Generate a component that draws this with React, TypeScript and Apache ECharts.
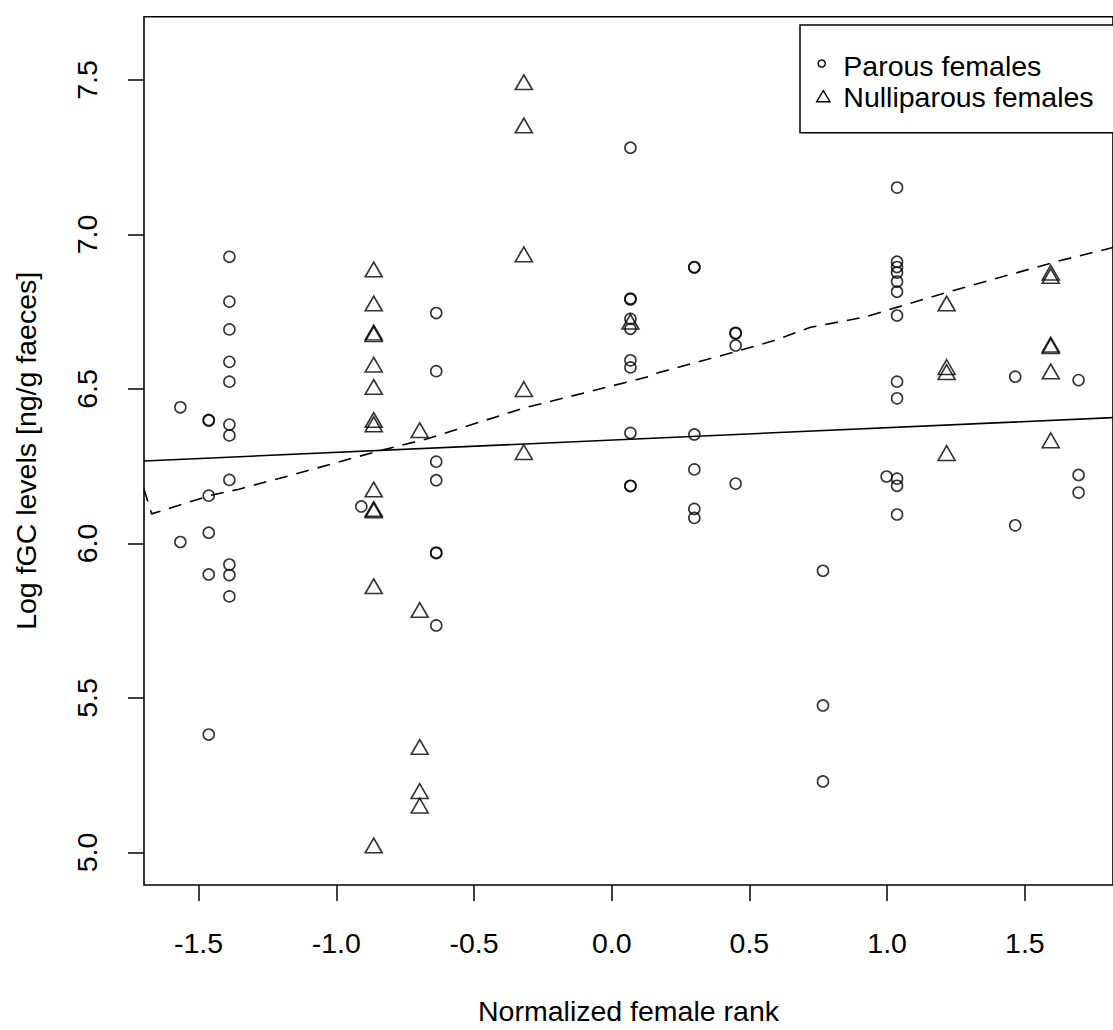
import React, { useEffect, useRef } from "react";
import * as echarts from "echarts";

// Axis ticks
const xTicks = [-1.5, -1.0, -0.5, 0.0, 0.5, 1.0, 1.5];
const yTicks = [5.0, 5.5, 6.0, 6.5, 7.0, 7.5];

// Parous females: normalized rank groups and log fGC levels per group
const parousRanks = [-1.566, -1.463, -1.388, -0.909, -0.637, 0.068, 0.3, 0.45, 0.767, 0.998, 1.036, 1.465, 1.695];
const parousLevels = [
  [6.441, 6.005],
  [6.4, 6.398, 6.155, 6.035, 5.9, 5.382],
  [6.928, 6.783, 6.693, 6.588, 6.524, 6.385, 6.35, 6.206, 5.932, 5.898, 5.829],
  [6.12],
  [6.746, 6.558, 6.265, 6.205, 5.971, 5.969, 5.735],
  [7.281, 6.793, 6.79, 6.727, 6.695, 6.593, 6.57, 6.358, 6.187, 6.186],
  [6.895, 6.893, 6.353, 6.24, 6.112, 6.083],
  [6.682, 6.68, 6.641, 6.194],
  [5.912, 5.476, 5.23],
  [6.217],
  [7.152, 6.912, 6.895, 6.877, 6.848, 6.815, 6.738, 6.524, 6.47, 6.21, 6.187, 6.094],
  [6.54, 6.059],
  [6.529, 6.222, 6.165],
];

// Nulliparous females
const nulliRanks = [-0.864, -0.697, -0.319, 0.068, 1.216, 1.594];
const nulliLevels = [
  [6.879, 6.769, 6.67, 6.675, 6.571, 6.499, 6.392, 6.378, 6.167, 6.099, 6.104, 5.854, 5.015],
  [6.359, 5.777, 5.334, 5.191, 5.144],
  [7.485, 7.345, 6.928, 6.492, 6.288],
  [6.71],
  [6.769, 6.563, 6.547, 6.285],
  [6.869, 6.858, 6.631, 6.636, 6.549, 6.326],
];

// Dashed fitted curve (nulliparous)
const dashX = [-1.698, -1.67, -1.652, -1.46, -1.353, -1.173, -0.849, -0.669, -0.321, 0.134, 0.158, 0.446, 0.59, 0.722, 0.914, 1.237, 1.621, 1.788, 1.82];
const dashY = [6.176, 6.096, 6.101, 6.155, 6.176, 6.219, 6.299, 6.339, 6.438, 6.54, 6.55, 6.62, 6.657, 6.7, 6.732, 6.818, 6.914, 6.951, 6.958];

// Solid regression line (parous)
const fitIntercept = 6.335;
const fitSlope = 0.0399;

const X_MIN = -1.698;
const X_MAX = 1.82;
const Y_MIN = 4.895;
const Y_MAX = 7.705;

const FONT = "'Liberation Sans', Arial, Helvetica, sans-serif";
const FS = 28.5;

function flatten(ranks: number[], levels: number[][]) {
  const out: number[][] = [];
  ranks.forEach((r, i) => levels[i].forEach((v) => out.push([r, v])));
  return out;
}

export default function App() {
  const ref = useRef<HTMLDivElement>(null);
  useEffect(() => {
    if (!ref.current) return;
    const chart = echarts.init(ref.current, undefined, { renderer: "svg" });
    const triW = 17;
    const triH = 14.7;
    chart.setOption({
      animation: false,
      backgroundColor: "#fff",
      textStyle: { fontFamily: FONT },
      grid: {
        left: 144,
        top: 16.7,
        right: -9,
        bottom: 137.3,
        show: true,
        borderColor: "#000",
        borderWidth: 1.6,
        backgroundColor: "transparent",
      },
      xAxis: {
        type: "value",
        min: X_MIN,
        max: X_MAX,
        name: "Normalized female rank",
        nameLocation: "middle",
        nameGap: 111,
        nameTextStyle: { fontSize: FS, color: "#000", fontFamily: FONT },
        axisLine: { show: false, onZero: false },
        splitLine: { show: false },
        axisTick: {
          show: true,
          length: 16,
          customValues: xTicks,
          lineStyle: { color: "#000", width: 1.5 },
        },
        axisLabel: {
          customValues: xTicks,
          margin: 43,
          fontSize: FS,
          color: "#000",
          fontFamily: FONT,
          formatter: (v: number) => v.toFixed(1),
        },
      },
      yAxis: {
        type: "value",
        min: Y_MIN,
        max: Y_MAX,
        name: "Log fGC levels [ng/g faeces]",
        nameLocation: "middle",
        nameGap: 104,
        nameTextStyle: { fontSize: FS, color: "#000", fontFamily: FONT },
        axisLine: { show: false, onZero: false },
        splitLine: { show: false },
        axisTick: {
          show: true,
          length: 16,
          customValues: yTicks,
          lineStyle: { color: "#000", width: 1.5 },
        },
        axisLabel: {
          customValues: yTicks,
          rotate: 90,
          margin: 43,
          fontSize: FS,
          color: "#000",
          fontFamily: FONT,
          formatter: (v: number) => v.toFixed(1),
        },
      },
      series: [
        {
          name: "Parous females",
          type: "scatter",
          symbol: "circle",
          symbolSize: 11,
          data: flatten(parousRanks, parousLevels),
          itemStyle: { color: "rgba(0,0,0,0)", borderColor: "#000", borderWidth: 1.6 },
          z: 3,
        },
        {
          name: "Nulliparous females",
          type: "scatter",
          symbol: "triangle",
          symbolSize: [triW, triH],
          symbolOffset: [0, -triH / 6],
          data: flatten(nulliRanks, nulliLevels),
          itemStyle: { color: "rgba(0,0,0,0)", borderColor: "#000", borderWidth: 1.6 },
          z: 3,
        },
        {
          name: "fit",
          type: "line",
          symbol: "none",
          clip: true,
          data: [X_MIN, X_MAX].map((x) => [x, fitIntercept + fitSlope * x]),
          lineStyle: { color: "#000", width: 1.6 },
          z: 2,
        },
        {
          name: "curve",
          type: "line",
          symbol: "none",
          clip: true,
          data: dashX.map((x, i) => [x, dashY[i]]),
          lineStyle: { color: "#000", width: 1.6, type: [13, 9] },
          z: 2,
        },
      ],
      graphic: [
        {
          type: "rect",
          shape: { x: 800, y: 25, width: 322, height: 107.7 },
          style: { fill: "#fff", stroke: "#000", lineWidth: 1.5 },
          z: 10,
        },
        {
          type: "circle",
          shape: { cx: 821.7, cy: 63.5, r: 3.6 },
          style: { fill: "none", stroke: "#000", lineWidth: 1.4 },
          z: 11,
        },
        {
          type: "polygon",
          shape: { points: [[823.3, 90.7], [816.7, 101.7], [830, 101.7]] },
          style: { fill: "none", stroke: "#000", lineWidth: 1.4 },
          z: 11,
        },
        {
          type: "text",
          x: 843.3,
          y: 65.5,
          style: { text: "Parous females", font: `${FS}px ${FONT}`, fill: "#000", verticalAlign: "middle", align: "left" },
          z: 11,
        },
        {
          type: "text",
          x: 843.3,
          y: 97,
          style: { text: "Nulliparous females", font: `${FS}px ${FONT}`, fill: "#000", verticalAlign: "middle", align: "left" },
          z: 11,
        },
      ],
    });
    return () => chart.dispose();
  }, []);
  return (
    <div
      ref={ref}
      style={{ position: "absolute", left: 0, top: 0, width: 1113, height: 1030, background: "#fff" }}
    />
  );
}
